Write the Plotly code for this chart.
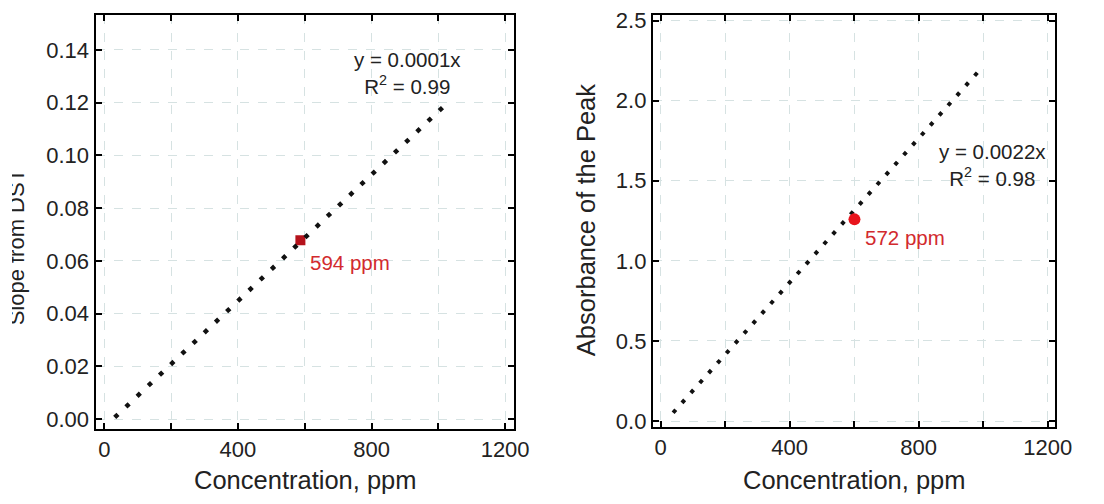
import plotly.graph_objects as go

# ---- data ----
left_fit_x = [31, 1024]
left_fit_y = [0.0006, 0.1195]
left_sample_x = [587]
left_sample_y = [0.0678]
left_sample_label = "594 ppm"
left_eq = "y = 0.0001x<br>R<sup>2</sup> = 0.99"
left_ytitle = "Slope from DST"
left_ytick_vals = [0.00, 0.02, 0.04, 0.06, 0.08, 0.10, 0.12, 0.14]
left_ytick_text = ["0.00", "0.02", "0.04", "0.06", "0.08", "0.10", "0.12", "0.14"]

right_fit_x = [39, 990]
right_fit_y = [0.052, 2.193]
right_sample_x = [601]
right_sample_y = [1.259]
right_sample_label = "572 ppm"
right_eq = "y = 0.0022x<br>R<sup>2</sup> = 0.98"
right_ytitle = "Absorbance of the Peak"
right_ytick_vals = [0.0, 0.5, 1.0, 1.5, 2.0, 2.5]
right_ytick_text = ["0.0", "0.5", "1.0", "1.5", "2.0", "2.5"]

xtick_vals = [0, 400, 800, 1200]
xtick_text = ["0", "400", "800", "1200"]
xminor_vals = [200, 600, 1000]
xtitle = "Concentration, ppm"

W, H = 1104, 504
FONT = "Arial, Liberation Sans, sans-serif"
TXT = "#222222"
GRID = "#d6e2e2"


def px(p):
    return p / W


def py(p):
    return 1 - p / H


fig = go.Figure()

# left panel
fig.add_trace(go.Scatter(x=left_sample_x, y=left_sample_y, mode="markers",
                         marker=dict(symbol="square", size=10, color="#b5121b"),
                         xaxis="x", yaxis="y", showlegend=False))
fig.add_trace(go.Scatter(x=left_fit_x, y=left_fit_y, mode="lines",
                         line=dict(color="#111111", width=4.5, dash="4.5px,10.9px"),
                         xaxis="x", yaxis="y", showlegend=False))
# right panel
fig.add_trace(go.Scatter(x=right_fit_x, y=right_fit_y, mode="lines",
                         line=dict(color="#111111", width=4, dash="4px,9.3px"),
                         xaxis="x2", yaxis="y2", showlegend=False))
fig.add_trace(go.Scatter(x=right_sample_x, y=right_sample_y, mode="markers",
                         marker=dict(symbol="circle", size=12, color="#e8141c"),
                         xaxis="x2", yaxis="y2", showlegend=False))

axis_common = dict(
    showline=True, linecolor="black", linewidth=2, mirror="ticks",
    ticks="inside", ticklen=6, tickwidth=1.5, tickcolor="black",
    showgrid=True, gridcolor=GRID, gridwidth=1, griddash="dash",
    zeroline=False, tickfont=dict(family=FONT, size=22, color=TXT),
    tickmode="array",
)
xminor = dict(tickvals=xminor_vals, ticks="inside", ticklen=6, tickwidth=1.5,
              tickcolor="black", showgrid=True, gridcolor=GRID, gridwidth=1,
              griddash="dash")

fig.update_layout(
    width=W, height=H, plot_bgcolor="white", paper_bgcolor="white",
    margin=dict(l=0, r=0, t=0, b=0),
    xaxis=dict(domain=[px(97), px(522)], range=[-26.5, 1226.5], anchor="y",
               tickvals=xtick_vals, ticktext=xtick_text, minor=xminor, **axis_common),
    yaxis=dict(domain=[py(434), py(9)], range=[-0.0037, 0.1533], anchor="x",
               tickvals=left_ytick_vals, ticktext=left_ytick_text, **axis_common),
    xaxis2=dict(domain=[px(663), px(1072)], range=[-24, 1224], anchor="y2",
                tickvals=xtick_vals, ticktext=xtick_text, minor=xminor, **axis_common),
    yaxis2=dict(domain=[py(432), py(9)], range=[-0.036, 2.536], anchor="x2",
                tickvals=right_ytick_vals, ticktext=right_ytick_text, **axis_common),
)

C = dict(xanchor="center", yanchor="middle", showarrow=False)
ann = []
# equations
ann.append(dict(x=908, y=0.1313, xref="x", yref="y", text=left_eq, align="center",
                font=dict(family=FONT, size=20.5, color=TXT), **C))
ann.append(dict(x=1029, y=1.60, xref="x2", yref="y2", text=right_eq, align="center",
                font=dict(family=FONT, size=20.5, color=TXT), **C))
# sample labels
ann.append(dict(x=610, y=0.0593, xref="x", yref="y", text=left_sample_label, showarrow=False,
                xanchor="left", yanchor="middle", font=dict(family=FONT, size=20.5, color="#d22a2e")))
ann.append(dict(x=626, y=1.144, xref="x2", yref="y2", text=right_sample_label, showarrow=False,
                xanchor="left", yanchor="middle", font=dict(family=FONT, size=20.5, color="#d22a2e")))
# axis titles
ann.append(dict(x=px(310), y=py(487), xref="paper", yref="paper", text=xtitle,
                font=dict(family=FONT, size=25.5, color=TXT), **C))
ann.append(dict(x=px(868), y=py(487), xref="paper", yref="paper", text=xtitle,
                font=dict(family=FONT, size=25.5, color=TXT), **C))
ann.append(dict(x=px(596), y=py(220), xref="paper", yref="paper", text=right_ytitle,
                textangle=-90, font=dict(family=FONT, size=25.5, color=TXT), **C))
ann.append(dict(x=px(17), y=py(247), xref="paper", yref="paper", text=left_ytitle,
                textangle=-90, font=dict(family=FONT, size=22, color=TXT), **C))
# white strip cropping the left title as in the source image
ann.append(dict(x=0, y=0.5, xref="paper", yref="paper", text=" ", showarrow=False,
                xanchor="left", yanchor="middle", width=12, height=500, bgcolor="white",
                borderpad=0, borderwidth=0))
fig.update_layout(annotations=ann)

fig.write_html(
    "out.html",
    config={"displayModeBar": False},
    post_script=("document.documentElement.style.overflow='hidden';"
                 "document.body.style.overflow='hidden';"
                 "document.body.style.margin='0';"),
)
